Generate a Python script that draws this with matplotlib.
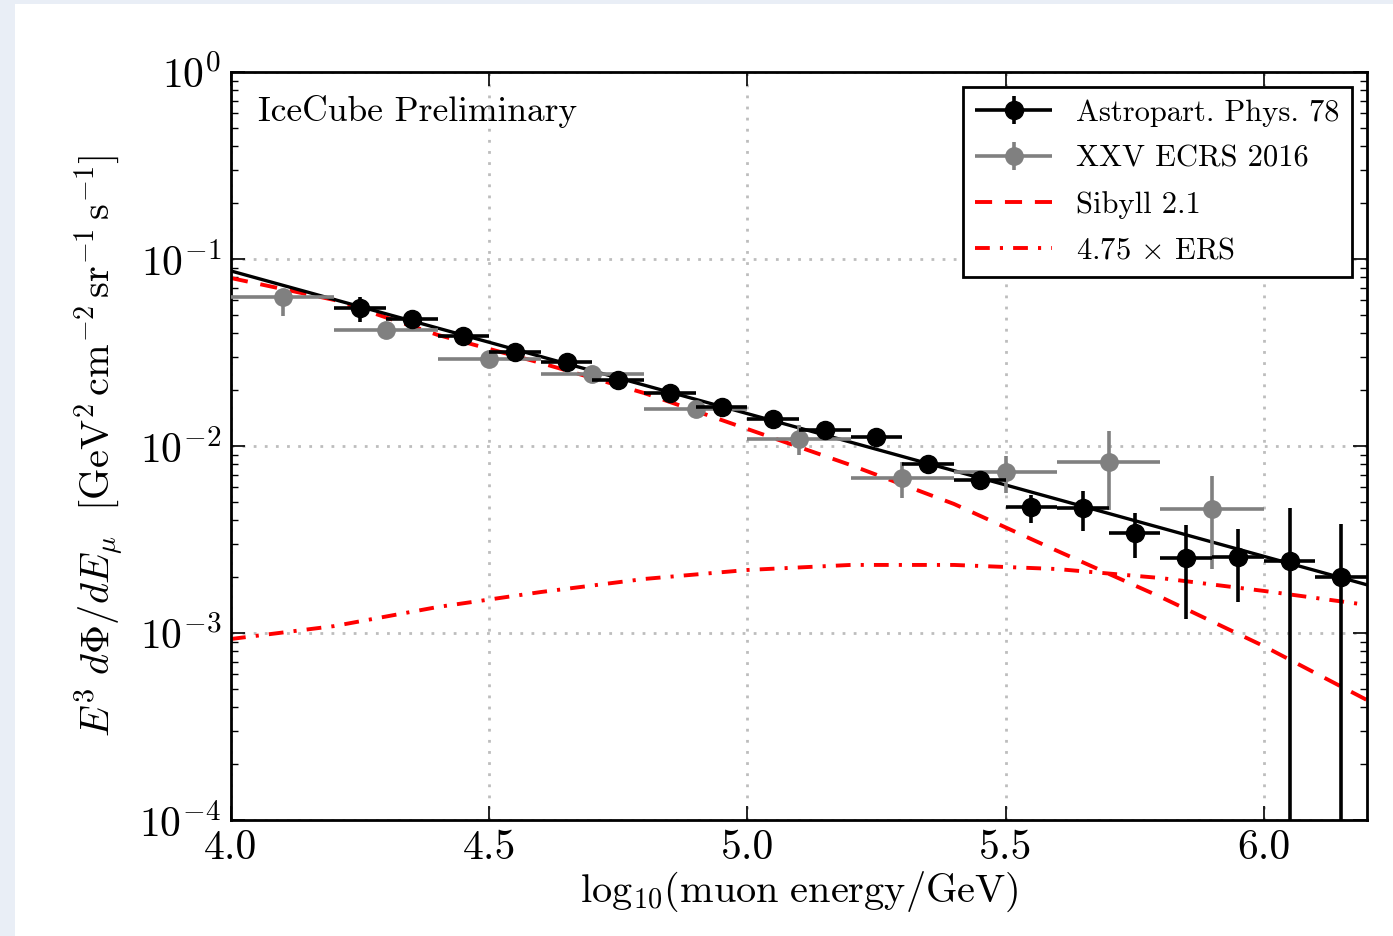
import numpy as np
import matplotlib
matplotlib.use("Agg")
from matplotlib import pyplot as plt
from matplotlib.patches import Rectangle
from matplotlib.legend_handler import HandlerErrorbar

plt.rcParams["font.family"] = "cmr10"
plt.rcParams["mathtext.fontset"] = "cm"
plt.rcParams["axes.formatter.use_mathtext"] = True

# Astropart. Phys. 78 (black points)
apm_x = [4.25, 4.35, 4.45, 4.55, 4.65, 4.75, 4.85, 4.95, 5.05, 5.15,
         5.25, 5.35, 5.45, 5.55, 5.65, 5.75, 5.85, 5.95, 6.05, 6.15]
apm_y = [0.0547, 0.0478, 0.0387, 0.0318, 0.0281, 0.0225, 0.0192, 0.0162, 0.0139, 0.0122,
         0.0112, 0.0080, 0.00658, 0.00472, 0.00466, 0.00342, 0.00252, 0.00255, 0.00243, 0.00199]
apm_hi = [0.0626, 0.0500, 0.0404, 0.0333, 0.0295, 0.0237, 0.0203, 0.0171, 0.0147, 0.0130,
          0.0119, 0.00863, 0.00708, 0.00547, 0.00574, 0.00438, 0.00378, 0.00360, 0.00466, 0.00383]
apm_lo = [0.0461, 0.0456, 0.0370, 0.0304, 0.0268, 0.0214, 0.0182, 0.0153, 0.0131, 0.0115,
          0.0105, 0.00744, 0.00604, 0.00388, 0.00351, 0.00252, 0.00119, 0.00147, 1e-6, 1e-6]
apm_xerr = 0.05

# XXV ECRS 2016 (gray points)
ecrs_x = [4.1, 4.3, 4.5, 4.7, 4.9, 5.1, 5.3, 5.5, 5.7, 5.9]
ecrs_y = [0.0626, 0.0417, 0.0292, 0.0243, 0.0158, 0.0109, 0.00675, 0.00726, 0.00821, 0.0046]
ecrs_hi = [0.0691, 0.0461, 0.0305, 0.0259, 0.0171, 0.01295, 0.00821, 0.00885, 0.0120, 0.00691]
ecrs_lo = [0.0496, 0.0378, 0.0280, 0.0228, 0.0145, 0.00895, 0.00527, 0.00561, 0.00455, 0.00220]
ecrs_xerr = 0.1

# power law fit through the black points
fit_x = [4.0, 6.2]
fit_y = [0.0863, 0.00181]

# model curves
model_x = [4.0, 4.2, 4.4, 4.6, 4.8, 5.0, 5.2, 5.4, 5.6, 5.8, 6.0, 6.2]
sibyll_y = [0.0791, 0.0604, 0.0393, 0.0278, 0.0192, 0.01233, 0.00791, 0.00490,
            0.00275, 0.00156, 0.000851, 0.000438]
ers_y = [0.000929, 0.001089, 0.001377, 0.001656, 0.001945, 0.002173, 0.002312,
         0.002312, 0.002198, 0.001968, 0.001679, 0.001413]

fig = plt.figure(figsize=(13.93, 9.36), dpi=100)
fig.patch.set_facecolor("#e9eef6")
fig.add_artist(Rectangle((15 / 1393, 0), 1, 932 / 936, transform=fig.transFigure,
                         facecolor="white", edgecolor="none", zorder=-10))

ax = fig.add_axes([231 / 1393, 116 / 936, 1136 / 1393, 748 / 936])

ln_sib, = ax.plot(model_x, sibyll_y, color="red", lw=2.8, ls=(0, (4.4, 3.3)), zorder=2)
ln_ers, = ax.plot(model_x, ers_y, color="red", lw=2.8, ls=(0, (3.8, 2.6, 0.8, 2.6)), zorder=2)
ax.plot(fit_x, fit_y, color="black", lw=2.4, zorder=3)

ecrs_y_arr = np.array(ecrs_y)
eb_ecrs = ax.errorbar(ecrs_x, ecrs_y, xerr=ecrs_xerr,
                      yerr=[ecrs_y_arr - np.array(ecrs_lo), np.array(ecrs_hi) - ecrs_y_arr],
                      fmt="o", color="gray", mec="gray", ms=12.5, elinewidth=2.6, capsize=0,
                      zorder=4)
apm_y_arr = np.array(apm_y)
eb_apm = ax.errorbar(apm_x, apm_y, xerr=apm_xerr,
                     yerr=[apm_y_arr - np.array(apm_lo), np.array(apm_hi) - apm_y_arr],
                     fmt="o", color="black", ms=13, elinewidth=2.6, capsize=0, zorder=5)

ax.set_yscale("log")
ax.set_xlim(4.0, 6.2)
ax.set_ylim(1e-4, 1e0)
ax.set_xticks([4.0, 4.5, 5.0, 5.5, 6.0])
ax.set_xticklabels(["4.0", "4.5", "5.0", "5.5", "6.0"])
ax.tick_params(which="both", direction="in", top=True, right=True, labelsize=30, pad=7)
ax.tick_params(which="major", length=10, width=1.2)
ax.tick_params(which="minor", length=5, width=1.0)
for s in ax.spines.values():
    s.set_linewidth(2)
ax.grid(True, which="major", color="#bdbdbd", ls=(0, (1, 3)), lw=2)

ax.set_xlabel(r"$\mathrm{log}_{10}(\mathrm{muon\ energy/GeV})$", fontsize=29, labelpad=2)
ax.set_ylabel(r"$E^3\ d\Phi/dE_\mu\ \ [\mathrm{GeV}^2\,\mathrm{cm}^{-2}\,\mathrm{sr}^{-1}\,\mathrm{s}^{-1}]$",
              fontsize=29, labelpad=10)

ax.text(0.024, 0.947, "IceCube Preliminary", transform=ax.transAxes,
        fontsize=25.5, ha="left", va="center")

leg = ax.legend([eb_apm, eb_ecrs, ln_sib, ln_ers],
                ["Astropart. Phys. 78", "XXV ECRS 2016", "Sibyll 2.1", r"4.75 $\times$ ERS"],
                loc="upper right", bbox_to_anchor=(0.9868, 0.980), borderaxespad=0,
                fontsize=22, handlelength=2.5, handletextpad=0.8, labelspacing=0.6,
                fancybox=False, framealpha=1, borderpad=0.4,
                handler_map={type(eb_apm): HandlerErrorbar(xerr_size=1.25, yerr_size=0.45)})
leg.get_frame().set_edgecolor("black")
leg.get_frame().set_linewidth(2)

fig.savefig("out.png", dpi=100, facecolor=fig.get_facecolor())
